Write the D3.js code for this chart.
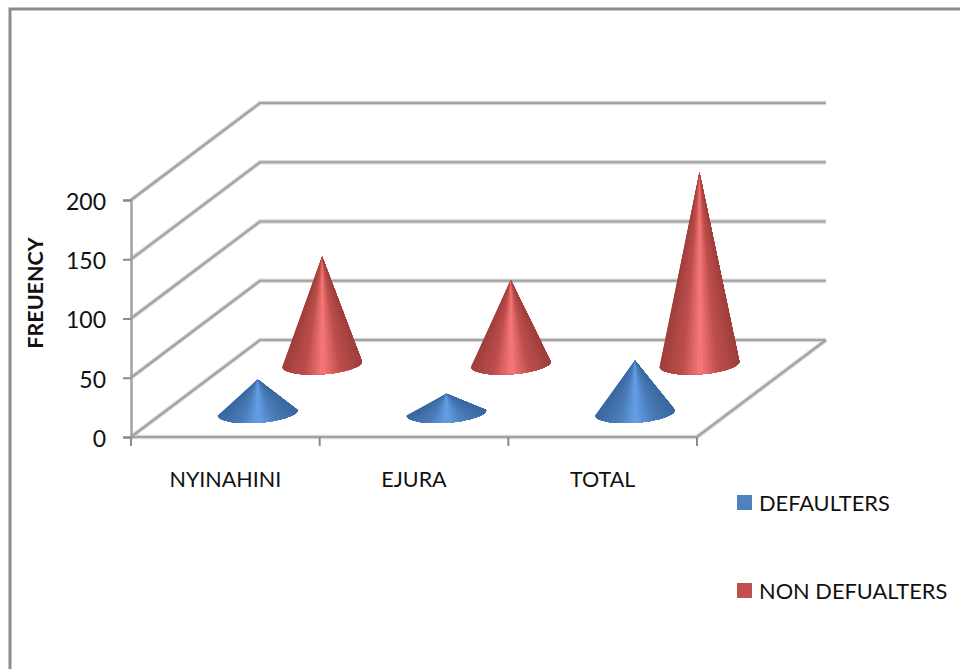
<!DOCTYPE html>
<html>
<head>
<meta charset="utf-8">
<script src="https://cdn.jsdelivr.net/npm/d3@7"></script>
<style>
    html, body { margin: 0; padding: 0; background: #fff; }
    svg { display: block; }
    text { font-family: Lato, "Open Sans", sans-serif; fill: #111; }
</style>
</head>
<body>
<svg id="chart"></svg>
<script>
const categories = ['NYINAHINI', 'EJURA', 'TOTAL'];
const seriesNames = ['DEFAULTERS', 'NON DEFUALTERS'];
const defaulters = [28, 16, 44];
const nonDefaulters = [91, 71, 162];
const yTicks = [0, 50, 100, 150, 200];

const width = 960;
const height = 669;

// front floor corners and how far the back wall is shifted from the front
const front = { left: 131, right: 697, bottom: 437, top: 200 };
const depthX = 129;
const depthY = -97;

const svg = d3.select('#chart')
    .attr('width', width)
    .attr('height', height);

const xScale = d3.scaleBand()
    .domain(categories)
    .range([front.left, front.right]);

const yScale = d3.scaleLinear()
    .domain([0, 200])
    .range([front.bottom, front.top]);

const depthScale = d3.scaleBand()
    .domain(seriesNames)
    .range([0, 1]);

const color = d3.scaleOrdinal()
    .domain(seriesNames)
    .range(['#4f81bd', '#c0504d']);

// shading across the width of a cone, 0 is the left edge and 1 the right edge
const shadeStops = [0, 0.28, 0.5, 0.72, 1];
const shade = {
    'DEFAULTERS': d3.scaleLinear().domain(shadeStops)
        .range(['#39689f', '#4a7cb8', '#659fe6', '#4a7cb8', '#39689f']),
    'NON DEFUALTERS': d3.scaleLinear().domain(shadeStops)
        .range(['#a03e3c', '#bd4f4c', '#f97878', '#bd4f4c', '#a03e3c'])
};

const defs = svg.append('defs');

defs.append('filter')
    .attr('id', 'soft')
    .append('feGaussianBlur')
    .attr('stdDeviation', 0.6);

// outer frame
svg.append('path')
    .attr('d', `M10,${height} L10,9 L${width},9`)
    .attr('fill', 'none')
    .attr('stroke', '#8c8c8c')
    .attr('stroke-width', 3);

const walls = svg.append('g').attr('filter', 'url(#soft)');

// soft lighter line under the gridlines, then the gridline itself
[{ stroke: '#d9d9d9', w: 4.5 }, { stroke: '#a3a3a3', w: 2.2 }].forEach(style => {
    walls.selectAll(null)
        .data(yTicks)
        .enter()
        .append('path')
        .attr('d', d => {
            const y = yScale(d);
            return `M${front.left},${y} L${front.left + depthX},${y + depthY} L${front.right + depthX},${y + depthY}`;
        })
        .attr('fill', 'none')
        .attr('stroke', style.stroke)
        .attr('stroke-width', style.w);

    // floor edges
    walls.append('path')
        .attr('d', `M${front.left},${front.bottom} L${front.right},${front.bottom} L${front.right + depthX},${front.bottom + depthY}`)
        .attr('fill', 'none')
        .attr('stroke', style.stroke)
        .attr('stroke-width', style.w);
});

// y axis
const yAxis = d3.axisLeft(yScale)
    .tickValues(yTicks)
    .tickSize(8)
    .tickPadding(17);

const yAxisG = svg.append('g')
    .attr('transform', `translate(${front.left}, 0)`)
    .call(yAxis);

yAxisG.select('.domain')
    .attr('stroke', '#a3a3a3')
    .attr('stroke-width', 2.5);
yAxisG.selectAll('.tick line')
    .attr('stroke', '#8c8c8c')
    .attr('stroke-width', 2);
yAxisG.selectAll('text')
    .attr('y', 2)
    .style('font-size', '23px')
    .style('font-family', 'Lato, sans-serif')
    .attr('fill', '#111');

// x axis, labels sit in the middle of a band and ticks on its edges
const xAxis = d3.axisBottom(xScale)
    .tickSize(0)
    .tickPadding(35);

const xAxisG = svg.append('g')
    .attr('transform', `translate(0, ${front.bottom})`)
    .call(xAxis);

xAxisG.select('.domain').remove();
xAxisG.selectAll('text')
    .style('font-size', '21.5px')
    .style('font-family', 'Lato, sans-serif')
    .attr('fill', '#111');

const xEdges = categories.map(d => xScale(d)).concat(front.right);

svg.selectAll('.x-edge')
    .data(xEdges)
    .enter()
    .append('line')
    .attr('class', 'x-edge')
    .attr('x1', d => d)
    .attr('x2', d => d)
    .attr('y1', front.bottom)
    .attr('y2', front.bottom + 9)
    .attr('stroke', '#8c8c8c')
    .attr('stroke-width', 2);

// axis title
svg.append('text')
    .attr('transform', `translate(43, 293) rotate(-90)`)
    .attr('text-anchor', 'middle')
    .style('font-size', '21.5px')
    .style('font-weight', 700)
    .text('FREUENCY');

// cones, back series first
const rx = xScale.bandwidth() * 0.212;
const ry = rx * 0.25;
const tilt = -4 * Math.PI / 180;
const sliceCount = 40;

const rows = [];
[nonDefaulters, defaulters].forEach((values, s) => {
    const name = seriesNames[1 - s];
    categories.forEach((cat, i) => {
        rows.push({ cat, name, value: values[i] });
    });
});

// one cone is a fan from the tip round the front of the base, so the shading
// narrows towards the tip. Each piece runs on to the right end of the base and
// the next one paints over it, that way no seams show between the pieces
function coneSlices(d) {
    const t = depthScale(d.name) + depthScale.bandwidth() / 2;
    const cx = xScale(d.cat) + xScale.bandwidth() / 2 + t * depthX;
    const cy = front.bottom + t * depthY;
    const tipY = yScale(d.value) + t * depthY;
    const basePoint = a => {
        const px = rx * Math.cos(a);
        const py = ry * Math.sin(a);
        return [cx + px * Math.cos(tilt) - py * Math.sin(tilt),
                cy + px * Math.sin(tilt) + py * Math.cos(tilt)];
    };
    const angles = d3.range(sliceCount + 1).map(i => Math.PI * (1 - i / sliceCount));
    return d3.range(sliceCount).map(i => {
        const points = [[cx, tipY]].concat(angles.slice(i).map(basePoint));
        const u = (1 - Math.cos((angles[i] + angles[i + 1]) / 2)) / 2;
        return { path: d3.line()(points) + 'Z', fill: shade[d.name](u) };
    });
}

svg.append('g')
    .attr('filter', 'url(#soft)')
    .selectAll('g')
    .data(rows)
    .enter()
    .append('g')
    .selectAll('path')
    .data(coneSlices)
    .enter()
    .append('path')
    .attr('d', d => d.path)
    .attr('fill', d => d.fill);

// legend
const legendY = d3.scalePoint()
    .domain(seriesNames)
    .range([503, 591]);

const legend = svg.selectAll('.legend')
    .data(seriesNames)
    .enter()
    .append('g')
    .attr('class', 'legend')
    .attr('transform', d => `translate(737, ${legendY(d)})`);

legend.append('rect')
    .attr('y', -8)
    .attr('width', 15)
    .attr('height', 15)
    .attr('fill', d => color(d));

legend.append('text')
    .attr('x', 22)
    .attr('y', 8)
    .style('font-size', '21.8px')
    .text(d => d);
</script>
</body>
</html>
